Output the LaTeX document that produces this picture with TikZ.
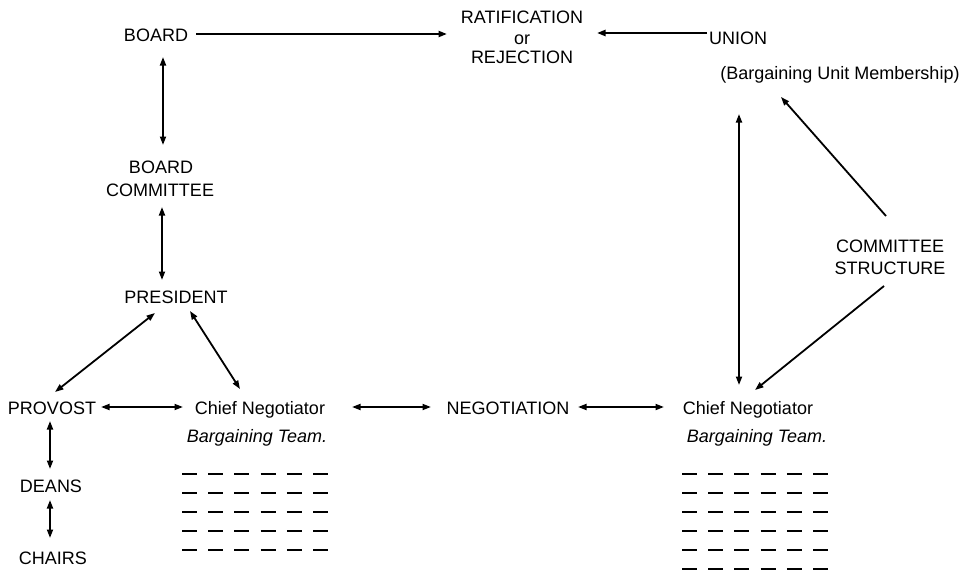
\documentclass[tikz,border=0pt]{standalone}
\usepackage{fontspec}
\setmainfont{Liberation Sans}
\usetikzlibrary{arrows.meta,calc}
\begin{document}
\begin{tikzpicture}[x=1pt,y=-1pt,
  lbl/.style={font=\fontsize{18}{21}\selectfont, inner sep=1pt, text height=12.9pt, text depth=0pt},
  itl/.style={lbl, font=\fontsize{18}{21}\selectfont\itshape},
  con/.style={line width=1.8pt, -{Triangle[length=8.5pt,width=6pt]}},
  dcon/.style={line width=1.8pt, {Triangle[length=8.5pt,width=6pt]}-{Triangle[length=8.5pt,width=6pt]}},
  thick con/.style={con, line width=2.4pt},
  teamdash/.style={line width=2.4pt, line cap=butt}
]
\fill[white] (0,0) rectangle (974,573);
\useasboundingbox (0,0) rectangle (974,573);

% nodes
\node[lbl] (board) at (156,35) {BOARD};
\node[lbl] (ratif) at (522,17) {RATIFICATION};
\node[lbl] (ror) at (522,38) {or};
\node[lbl] (rej) at (522,57) {REJECTION};
\node[lbl] (union) at (738,38) {UNION};
\node[lbl] (bum) at (840,73) {(Bargaining Unit Membership)};
\node[lbl] (bcA) at (161,167) {BOARD};
\node[lbl] (bcB) at (160,190) {COMMITTEE};
\node[lbl] (pres) at (176,297) {PRESIDENT};
\node[lbl] (prov) at (52,408) {PROVOST};
\node[lbl] (deans) at (51,486) {DEANS};
\node[lbl] (chairs) at (53,558) {CHAIRS};
\node[lbl] (chiefL) at (260,408) {Chief Negotiator};
\node[itl] (btL) at (257,436) {Bargaining Team.};
\node[lbl] (neg) at (508,408) {NEGOTIATION};
\node[lbl] (chiefR) at (748,408) {Chief Negotiator};
\node[itl] (btR) at (757,436) {Bargaining Team.};
\node[lbl] (csA) at (890,246) {COMMITTEE};
\node[lbl] (csB) at (890,268) {STRUCTURE};

% connectors
\draw[thick con] ($(board)+(40,-1)$) -- ($(ratif)+(-75,17)$);
\draw[thick con] ($(union)+(-31,-5)$) -- ($(ratif)+(75,16)$);
\draw[dcon] ($(board)+(7,22)$) -- ($(bcA)+(2,-22)$);
\draw[dcon] ($(bcB)+(2,17)$) -- ($(pres)+(-14,-17)$);
\draw[dcon] ($(pres)+(-21,16)$) -- ($(prov)+(3,-16)$);
\draw[dcon] ($(pres)+(14,14)$) -- ($(chiefL)+(-20,-19)$);
\draw[dcon] ($(prov)+(49,-1)$) -- ($(chiefL)+(-77,-1)$);
\draw[dcon] ($(chiefL)+(92,-1)$) -- ($(neg)+(-77,-1)$);
\draw[dcon] ($(neg)+(70,-1)$) -- ($(chiefR)+(-84,-1)$);
\draw[dcon] ($(union)+(1,76)$) -- ($(chiefR)+(-9,-23)$);
\draw[con] ($(csA)+(-4,-30)$) -- ($(bum)+(-59,24)$);
\draw[con] ($(csB)+(-6,18)$) -- ($(chiefR)+(7,-18)$);
\draw[dcon] ($(prov)+(-2,13)$) -- ($(deans)+(-1,-17)$);
\draw[dcon] ($(deans)+(-1,14)$) -- ($(chairs)+(-3,-20)$);

% bargaining team member dashes
\foreach \r in {0,...,4}
  \foreach \c in {0,...,5}
    \draw[teamdash] ($(btL)+(-75+\c*26.2,38+\r*19)$) -- ++(15,0);
\foreach \r in {0,...,5}
  \foreach \c in {0,...,5}
    \draw[teamdash] ($(btR)+(-75+\c*26.2,38+\r*19)$) -- ++(15,0);
\end{tikzpicture}
\end{document}
